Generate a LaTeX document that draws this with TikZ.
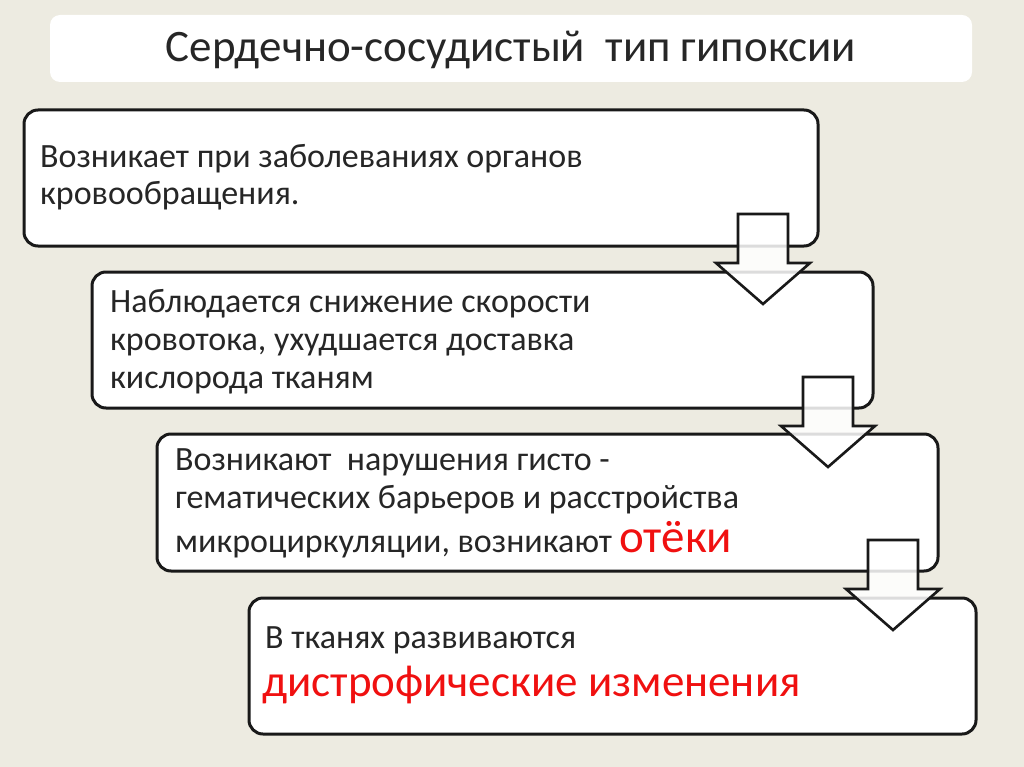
\documentclass[tikz,border=0pt]{standalone}
\usepackage{fontspec}
\setmainfont{Carlito}
\definecolor{bg}{HTML}{EDEBE1}
\definecolor{redt}{HTML}{F01010}
\begin{document}
\begin{tikzpicture}[x=1pt,y=-1pt,
  box/.style={draw=black!90,line width=3pt,fill=white,rounded corners=14pt},
  arr/.style={draw=black!90,line width=2.6pt,fill=white,fill opacity=0.85,line join=miter},
  txt/.style={anchor=base west,inner sep=0pt,font=\fontsize{34}{40}\selectfont,text=black!85}]
\fill[bg] (0,0) rectangle (1024,767);
\useasboundingbox (0,0) rectangle (1024,767);
\fill[white,rounded corners=10pt] (50,15) rectangle (972,82);
\node[inner sep=0pt,font=\fontsize{45}{50}\selectfont,text=black!85] (title) at (511,50) {Сердечно-сосудистый\ \ тип гипоксии};
\draw[box] (24,110) rectangle (818,246);
\node[txt] (t1a) at (40,168) {Возникает при заболеваниях органов};
\node[txt] (t1b) at (40,205) {кровообращения.};
\draw[box] (92,272) rectangle (873,408);
\node[txt] (t2a) at (110,312) {Наблюдается снижение скорости};
\node[txt] (t2b) at (110,350) {кровотока, ухудшается доставка};
\node[txt] (t2c) at (110,388) {кислорода тканям};
\draw[box] (157,434) rectangle (938,571);
\node[txt] (t3a) at (175,470) {Возникают\ \ нарушения гисто -};
\node[txt] (t3b) at (175,508) {гематических барьеров и расстройства};
\node[txt] (t3c) at (175,552) {микроциркуляции, возникают \textcolor{redt}{\fontsize{47}{50}\selectfont отёки}};
\draw[box] (249,598) rectangle (976,734);
\node[txt] (t4a) at (265,648) {В тканях развиваются};
\node[txt,font=\fontsize{45}{50}\selectfont,text=redt] (t4b) at (262,696) {дистрофические изменения};
\foreach \x/\y in {738/214, 803/377, 868/540}{
  \draw[arr] (\x,\y) -- (\x+50,\y) -- (\x+50,\y+49) -- (\x+72,\y+49) -- (\x+25,\y+90) -- (\x-22,\y+49) -- (\x,\y+49) -- cycle;
}
\end{tikzpicture}
\end{document}
